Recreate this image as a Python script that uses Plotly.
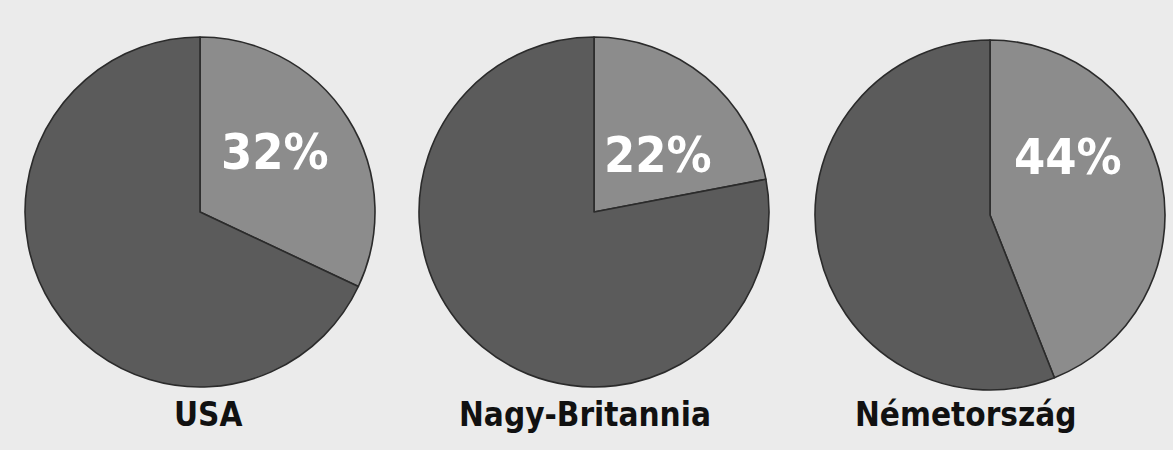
import plotly.graph_objects as go

# Share of the highlighted part in each country (percent)
countries = ["USA", "Nagy-Britannia", "Németország"]
shares = [32, 22, 44]

W, H = 1173, 450

# Pie layout: centre (px from left/top) and radius in pixels
centers = [(200, 212), (594, 212), (990, 215)]
radius = 175
# Percent label offsets from pie centre (px) and country label x positions
pct_offsets = [(75, -60), (64, -57), (78, -58)]
name_x = [208, 585, 966]
name_y = 414

DARK = "#5b5b5b"
LIGHT = "#8c8c8c"
LABEL_FONT = "Liberation Sans Narrow, DejaVu Sans Condensed, sans-serif"

fig = go.Figure()
annotations = []
for i, (name, share) in enumerate(zip(countries, shares)):
    cx, cy = centers[i]
    fig.add_trace(go.Pie(
        values=[share, 100 - share],
        labels=[f"{name} – kiemelt", f"{name} – többi"],
        sort=False,
        direction="clockwise",
        rotation=0,
        marker=dict(colors=[LIGHT, DARK], line=dict(color="#2b2b2b", width=1.6)),
        textinfo="none",
        hoverinfo="label+percent",
        showlegend=False,
        domain=dict(
            x=[(cx - radius) / W, (cx + radius) / W],
            y=[(H - cy - radius) / H, (H - cy + radius) / H],
        ),
    ))
    dx, dy = pct_offsets[i]
    annotations.append(dict(
        x=(cx + dx) / W, y=(H - cy - dy) / H, xref="paper", yref="paper",
        text=f"<b>{share}%</b>", showarrow=False,
        font=dict(family=LABEL_FONT, size=50, color="white"),
        xanchor="center", yanchor="middle",
    ))
    annotations.append(dict(
        x=name_x[i] / W, y=(H - name_y) / H, xref="paper", yref="paper",
        text=f"<b>{name}</b>", showarrow=False,
        font=dict(family=LABEL_FONT, size=33, color="#111111"),
        xanchor="center", yanchor="middle",
    ))

fig.update_layout(
    width=W, height=H,
    margin=dict(l=0, r=0, t=0, b=0),
    paper_bgcolor="#ebebeb",
    plot_bgcolor="#ebebeb",
    annotations=annotations,
)

fig.write_html("out.html")
